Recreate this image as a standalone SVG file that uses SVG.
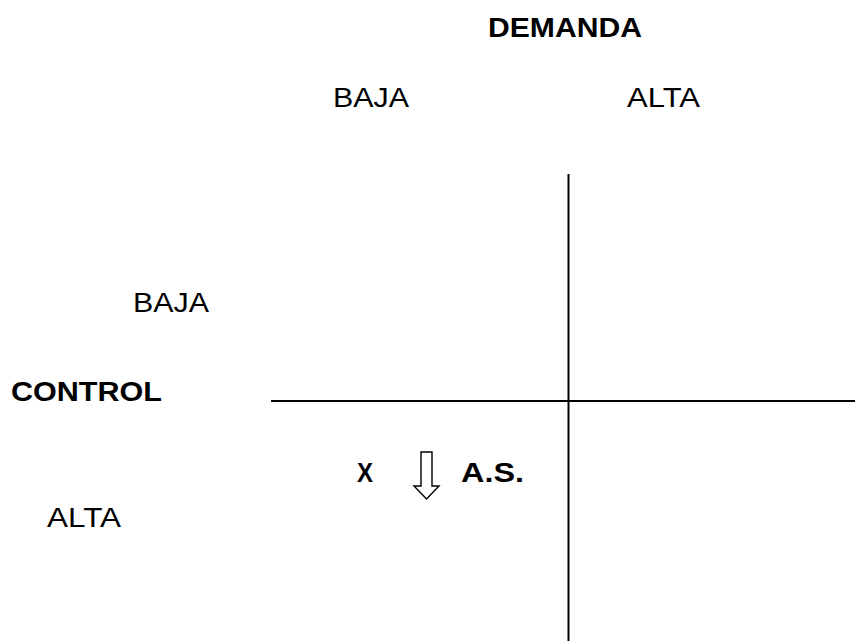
<svg xmlns="http://www.w3.org/2000/svg" width="855" height="641" viewBox="0 0 855 641">
  <style>
    .lbl { font-family: "Liberation Sans", Arial, sans-serif; font-size: 27px; fill: #000; }
    .b { font-weight: bold; font-size: 27.5px; }
    .axis { stroke: #000; stroke-width: 2; fill: none; }
    .arrow { stroke: #000; stroke-width: 1.4; fill: #fff; stroke-linejoin: miter; }
  </style>
  <rect width="855" height="641" fill="#fff"/>

  <!-- quadrant axes -->
  <g id="connectors">
    <line class="axis" x1="568.5" y1="174" x2="568.5" y2="641"/>
    <line class="axis" x1="271" y1="401" x2="855" y2="401"/>
  </g>

  <!-- column headings -->
  <g id="demanda">
    <text class="lbl b" x="488" y="37" textLength="154" lengthAdjust="spacingAndGlyphs">DEMANDA</text>
  </g>
  <g id="demanda-baja">
    <text class="lbl" x="333" y="107" textLength="76" lengthAdjust="spacingAndGlyphs">BAJA</text>
  </g>
  <g id="demanda-alta">
    <text class="lbl" x="627" y="107" textLength="73" lengthAdjust="spacingAndGlyphs">ALTA</text>
  </g>

  <!-- row headings -->
  <g id="control-baja">
    <text class="lbl" x="133" y="312" textLength="76" lengthAdjust="spacingAndGlyphs">BAJA</text>
  </g>
  <g id="control">
    <text class="lbl b" x="11" y="401" textLength="151" lengthAdjust="spacingAndGlyphs">CONTROL</text>
  </g>
  <g id="control-alta">
    <text class="lbl" x="47" y="527" textLength="74" lengthAdjust="spacingAndGlyphs">ALTA</text>
  </g>

  <!-- marked cell: low demand / high control -->
  <g id="cell-mark">
    <text class="lbl b" x="357" y="482" textLength="16" lengthAdjust="spacingAndGlyphs">X</text>
    <path class="arrow" d="M421,452 H432 V486 H439 L426.5,499 L414,486 H421 Z"/>
    <text class="lbl b" x="461" y="482" textLength="63" lengthAdjust="spacingAndGlyphs">A.S.</text>
  </g>
</svg>
